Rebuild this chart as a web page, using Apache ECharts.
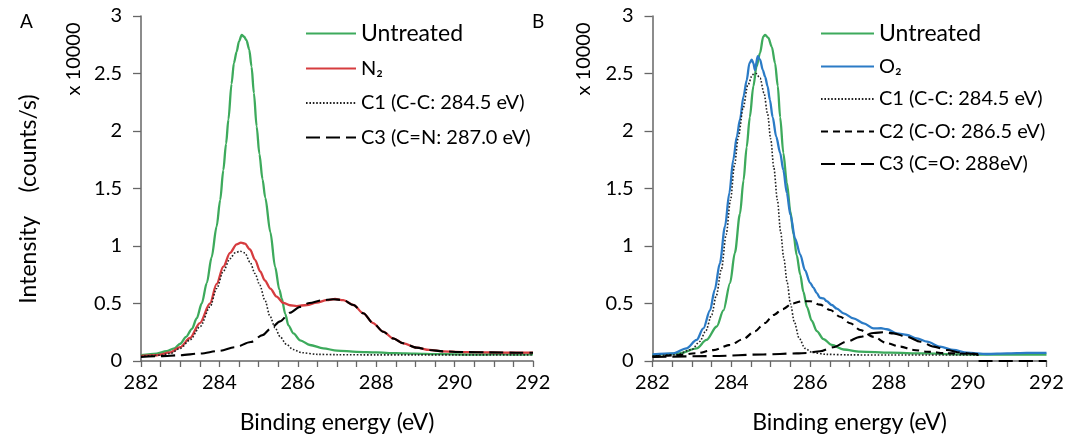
<!DOCTYPE html>
<html><head><meta charset="utf-8">
<script src="https://cdn.jsdelivr.net/npm/echarts@6/dist/echarts.min.js"></script>
<style>html,body{margin:0;padding:0;background:#fff}#c{width:1078px;height:440px}</style>
</head><body><div id="c"></div>
<script>
// ---------- Panel A ----------
const aUntreatedE = [282.0,282.4,282.65,282.85,283.0,283.15,283.3,283.42,283.55,283.68,283.8,283.93,284.02,284.1,284.17,284.23,284.31,284.37,284.44,284.5,284.57,284.63,284.69,284.76,284.82,284.88,284.95,285.02,285.1,285.17,285.3,285.42,285.53,285.59,285.68,285.76,285.89,286.06,286.31,286.65,287.0,287.5,288.0,288.5,289.0,289.5,290.0,290.5,291.0,291.5,292.0];
const aUntreatedI = [0.05,0.065,0.085,0.11,0.15,0.21,0.28,0.37,0.50,0.68,0.90,1.17,1.40,1.66,1.89,2.10,2.41,2.59,2.69,2.78,2.835,2.82,2.79,2.71,2.56,2.33,2.04,1.80,1.58,1.42,1.12,0.82,0.62,0.545,0.41,0.31,0.24,0.18,0.139,0.11,0.09,0.08,0.075,0.068,0.064,0.06,0.058,0.055,0.058,0.056,0.058];

const aN2E = [282.0,282.4,282.75,283.0,283.25,283.5,283.76,283.93,284.1,284.27,284.44,284.55,284.65,284.78,284.91,285.04,285.16,285.3,285.46,285.63,285.8,285.97,286.23,286.48,286.74,286.95,287.16,287.42,287.67,287.92,288.18,288.43,288.69,289.03,289.36,289.7,290.2,290.9,291.57,292.0];
const aN2I = [0.045,0.05,0.075,0.12,0.20,0.33,0.50,0.67,0.82,0.94,1.015,1.03,1.02,0.97,0.88,0.78,0.70,0.63,0.56,0.505,0.485,0.478,0.487,0.507,0.53,0.539,0.53,0.487,0.415,0.33,0.255,0.197,0.154,0.116,0.096,0.084,0.078,0.075,0.072,0.072];

const aC1E = [282.0,282.5,282.75,283.0,283.25,283.51,283.76,283.93,284.1,284.27,284.4,284.53,284.65,284.78,284.91,285.03,285.16,285.29,285.42,285.55,285.71,285.88,286.1,286.5,287.0,288.0,289.0,290.0,291.0,292.0];
const aC1I = [0.04,0.05,0.065,0.11,0.183,0.30,0.47,0.63,0.78,0.89,0.94,0.955,0.94,0.86,0.76,0.66,0.53,0.39,0.29,0.21,0.145,0.10,0.072,0.058,0.055,0.053,0.053,0.053,0.053,0.053];

const aC3E = [282.0,282.5,283.0,283.5,284.0,284.4,284.8,285.1,285.3,285.55,285.8,286.05,286.3,286.6,286.9,287.16,287.42,287.67,287.92,288.18,288.43,288.69,289.03,289.36,289.7,290.2,290.9,291.57,292.0];
const aC3I = [0.035,0.042,0.05,0.065,0.088,0.12,0.165,0.225,0.28,0.345,0.42,0.47,0.505,0.527,0.537,0.53,0.487,0.415,0.33,0.255,0.197,0.154,0.116,0.096,0.084,0.078,0.075,0.072,0.072];

// ---------- Panel B ----------
const bUntreatedE = [282.0,282.69,283.12,283.37,283.63,283.8,283.97,284.09,284.22,284.31,284.39,284.47,284.56,284.64,284.73,284.81,284.86,284.94,285.03,285.11,285.18,285.24,285.32,285.41,285.5,285.58,285.66,285.75,285.83,285.92,286.04,286.17,286.34,286.55,286.85,287.27,288.03,288.88,289.73,290.58,291.51,292.0];
const bUntreatedI = [0.052,0.067,0.11,0.183,0.30,0.44,0.68,0.94,1.28,1.57,1.86,2.12,2.39,2.56,2.68,2.82,2.835,2.81,2.73,2.59,2.39,2.12,1.81,1.55,1.30,1.10,0.92,0.75,0.60,0.47,0.35,0.26,0.19,0.14,0.10,0.081,0.072,0.066,0.058,0.055,0.055,0.056];

const bO2E = [282.0,282.53,282.86,283.12,283.29,283.46,283.58,283.71,283.84,283.95,284.05,284.14,284.22,284.31,284.39,284.46,284.52,284.56,284.6,284.67,284.73,284.8,284.86,284.92,284.98,285.05,285.14,285.24,285.32,285.41,285.5,285.62,285.75,285.87,286.0,286.08,286.17,286.25,286.34,286.42,286.55,286.68,286.85,287.1,287.36,287.61,287.8,287.95,288.2,288.46,288.71,288.97,289.3,289.64,289.98,290.49,291.0,291.5,292.0];
const bO2I = [0.058,0.067,0.11,0.183,0.283,0.44,0.62,0.85,1.17,1.46,1.75,1.95,2.10,2.30,2.44,2.59,2.62,2.59,2.53,2.65,2.62,2.53,2.47,2.39,2.27,2.12,1.95,1.81,1.66,1.46,1.27,1.065,0.925,0.79,0.68,0.64,0.59,0.55,0.545,0.52,0.487,0.455,0.415,0.371,0.328,0.284,0.285,0.276,0.24,0.226,0.197,0.168,0.125,0.096,0.072,0.061,0.066,0.07,0.07];

const bC1E = [282.0,282.6,283.0,283.2,283.35,283.5,283.62,283.75,283.87,283.98,284.08,284.18,284.3,284.42,284.54,284.63,284.73,284.83,284.92,285.0,285.08,285.17,285.25,285.33,285.42,285.5,285.6,285.72,285.87,286.05,286.4,287.0,288.0,289.0,290.25];
const bC1I = [0.043,0.055,0.10,0.17,0.26,0.40,0.57,0.80,1.10,1.40,1.70,1.95,2.20,2.40,2.49,2.50,2.46,2.33,2.15,1.93,1.68,1.40,1.13,0.90,0.68,0.50,0.34,0.20,0.11,0.075,0.058,0.053,0.052,0.052,0.052];

const bC2E = [282.0,282.6,283.1,283.55,283.97,284.3,284.6,284.85,285.07,285.3,285.55,285.8,286.0,286.25,286.51,286.76,287.02,287.27,287.61,287.95,288.29,288.63,288.97,289.47,290.25];
const bC2I = [0.038,0.05,0.067,0.095,0.14,0.19,0.26,0.33,0.40,0.45,0.50,0.52,0.52,0.49,0.443,0.385,0.328,0.27,0.21,0.154,0.125,0.096,0.081,0.067,0.06];

const bC3E = [282.0,283.54,284.81,285.66,285.92,286.25,286.59,286.93,287.27,287.61,287.86,288.12,288.46,288.8,289.14,289.47,289.81,290.15,290.25,290.25,292.0];
const bC3I = [0.035,0.043,0.057,0.066,0.07,0.085,0.12,0.168,0.21,0.243,0.25,0.24,0.21,0.168,0.125,0.096,0.074,0.062,0.061,0,0];

// ---------- labels ----------
const nameUntreated = 'Untreated';
const nameN2 = 'N₂';
const nameO2 = 'O₂';
const nameC1 = 'C1 (C-C: 284.5 eV)';
const nameC3N = 'C3 (C=N: 287.0 eV)';
const nameC2O = 'C2 (C-O: 286.5 eV)';
const nameC3O = 'C3 (C=O: 288eV)';
const xTitle = 'Binding energy (eV)';
const yTitle = 'Intensity    (counts/s)';
const yUnit = 'x 10000';

const FONT = 'Lato, "Open Sans", sans-serif';
const GREEN = '#3DAA5C', RED = '#D63C3F', BLUE = '#2B7BC6';
const AXC = '#666666';

function zip(xs, ys) { return xs.map((x, i) => [x, ys[i]]); }

function xAxisCfg(idx) {
  return {
    gridIndex: idx, type: 'value', min: 282, max: 292, interval: 0.5,
    axisLine: { show: true, onZero: false, lineStyle: { color: AXC, width: 1.5 } },
    axisTick: { show: true, length: 6, lineStyle: { color: AXC, width: 1.3 } },
    axisLabel: { formatter: v => (Math.abs(v % 2) < 1e-9 ? String(v) : ''), fontSize: 20, color: '#000', fontFamily: FONT, margin: 12 },
    splitLine: { show: false },
    name: xTitle, nameLocation: 'middle', nameGap: 50,
    nameTextStyle: { fontSize: 23, color: '#000', fontFamily: FONT }
  };
}
function yAxisCfg(idx) {
  return {
    gridIndex: idx, type: 'value', min: 0, max: 3, interval: 0.5,
    axisLine: { show: true, lineStyle: { color: AXC, width: 1.5 } },
    axisTick: { show: true, length: 8, lineStyle: { color: AXC, width: 1.3 } },
    axisLabel: { fontSize: 20, color: '#000', fontFamily: FONT, margin: 19 },
    splitLine: { show: false }
  };
}
function line(name, xi, data, color, width, dash, z) {
  return {
    type: 'line', name, xAxisIndex: xi, yAxisIndex: xi, data, symbol: 'none',
    smooth: 0.3, smoothMonotone: 'x', z: z,
    lineStyle: { color, width, type: dash || 'solid' }, itemStyle: { color },
    emphasis: { disabled: true }, animation: false
  };
}

const chart = echarts.init(document.getElementById('c'), null, { renderer: 'canvas' });
const legendText = { fontSize: 20, color: '#000', fontFamily: FONT, lineHeight: 22 };
chart.setOption({
  animation: false,
  grid: [
    { left: 141, right: 545, top: 16, bottom: 79 },
    { left: 652.5, right: 31.5, top: 16, bottom: 79 }
  ],
  xAxis: [xAxisCfg(0), xAxisCfg(1)],
  yAxis: [yAxisCfg(0), yAxisCfg(1)],
  legend: [
    { orient: 'vertical', left: 305, top: 22, padding: 0, itemWidth: 50, itemHeight: 14, itemGap: 12.5,
      selectedMode: false, textStyle: legendText, itemStyle: { opacity: 0 },
      data: [{ name: nameUntreated, textStyle: { fontSize: 23 } }, nameN2, nameC1, nameC3N] },
    { orient: 'vertical', left: 820, top: 22, padding: 0, itemWidth: 53, itemHeight: 14, itemGap: 10.5,
      selectedMode: false, textStyle: legendText, itemStyle: { opacity: 0 },
      data: [{ name: nameUntreated, textStyle: { fontSize: 23 } }, nameO2, nameC1, nameC2O, nameC3O] }
  ],
  series: [
    line(nameUntreated, 0, zip(aUntreatedE, aUntreatedI), GREEN, 2.3, 'solid', 2),
    line(nameN2, 0, zip(aN2E, aN2I), RED, 2.3, 'solid', 3),
    line(nameC1, 0, zip(aC1E, aC1I), '#222', 1.6, [1.6, 1.8], 4),
    line(nameC3N, 0, zip(aC3E, aC3I), '#000', 2.1, [14, 6], 5),
    line(nameUntreated, 1, zip(bUntreatedE, bUntreatedI), GREEN, 2.3, 'solid', 2),
    line(nameO2, 1, zip(bO2E, bO2I), BLUE, 2.3, 'solid', 3),
    line(nameC1, 1, zip(bC1E, bC1I), '#222', 1.6, [1.6, 1.8], 4),
    line(nameC2O, 1, zip(bC2E, bC2I), '#000', 2.1, [7, 5], 5),
    line(nameC3O, 1, zip(bC3E, bC3I), '#000', 2.1, [14, 6], 5)
  ],
  graphic: [
    { type: 'text', left: 20, top: 12, style: { text: 'A', fontSize: 19, fontFamily: FONT, fill: '#000' } },
    { type: 'text', left: 532, top: 12, style: { text: 'B', fontSize: 19, fontFamily: FONT, fill: '#000' } },
    { type: 'text', x: 74, y: 59, rotation: Math.PI / 2, style: { text: yUnit, fontSize: 20, fontFamily: FONT, fill: '#000', align: 'center', verticalAlign: 'middle' } },
    { type: 'text', x: 584, y: 59, rotation: Math.PI / 2, style: { text: yUnit, fontSize: 20, fontFamily: FONT, fill: '#000', align: 'center', verticalAlign: 'middle' } },
    { type: 'text', x: 29, y: 199, rotation: Math.PI / 2, style: { text: yTitle, fontSize: 23, fontFamily: FONT, fill: '#000', align: 'center', verticalAlign: 'middle' } }
  ]
});
</script></body></html>
